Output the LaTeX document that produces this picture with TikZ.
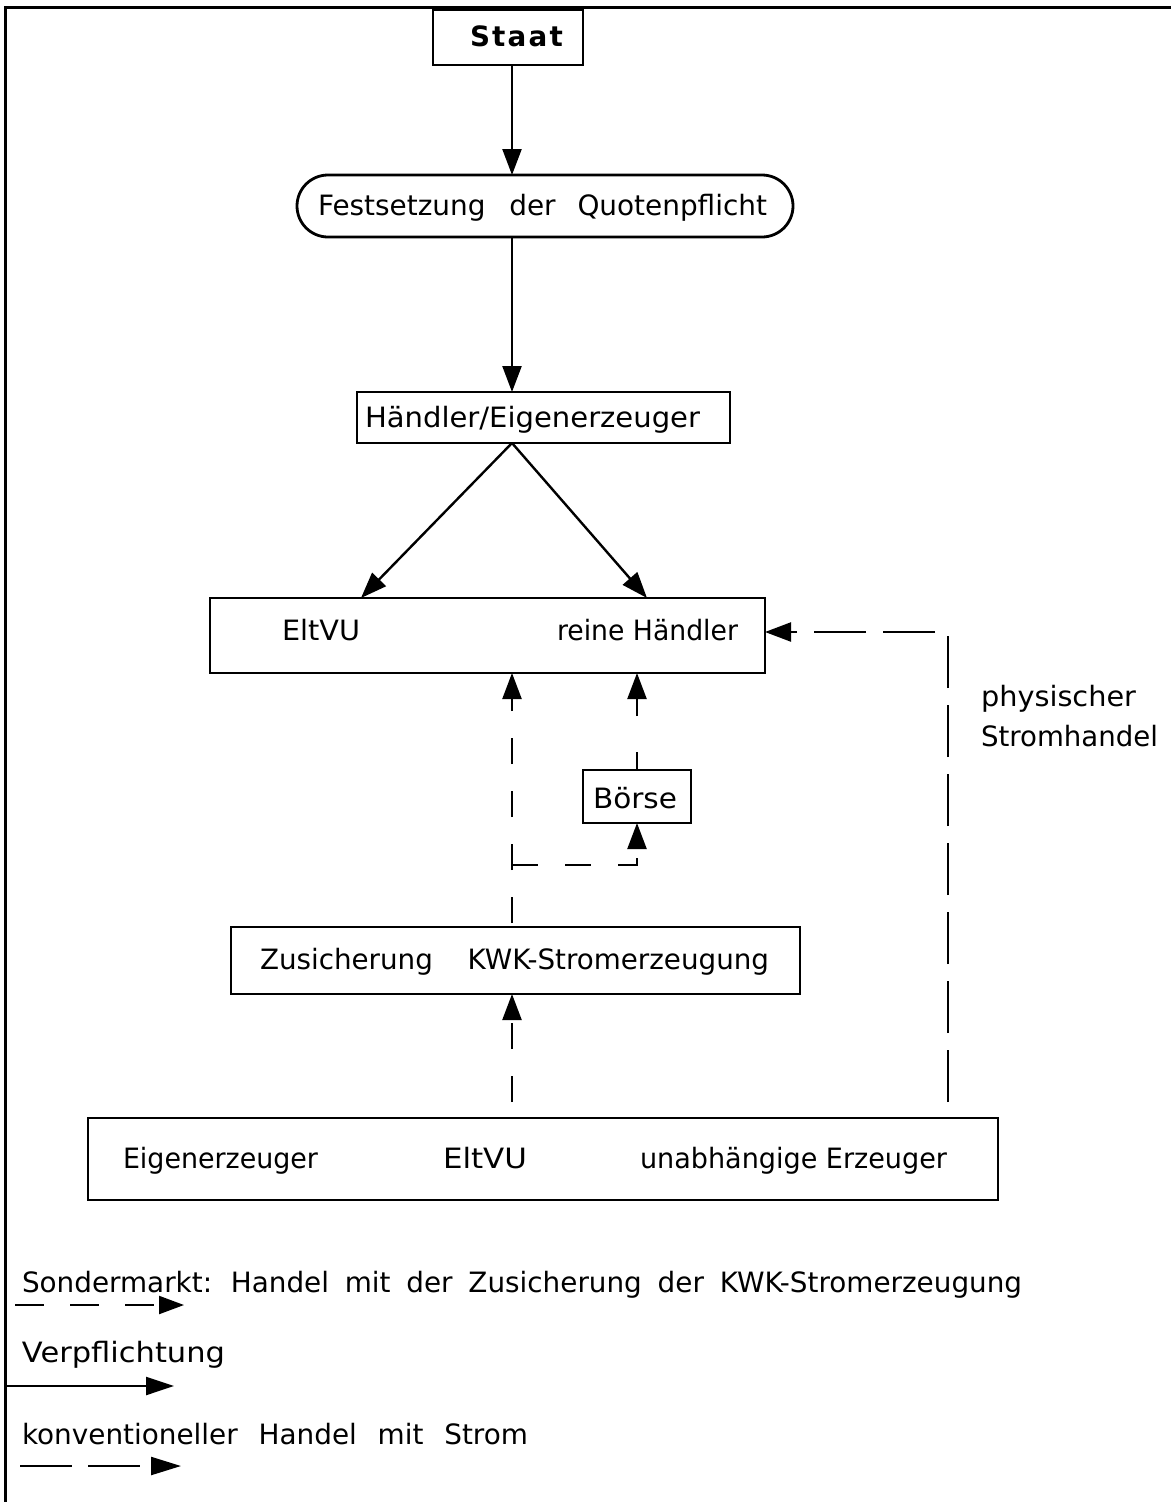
\documentclass[tikz,border=0pt]{standalone}
\usepackage{fontspec}
\usepackage{graphicx}
\setmainfont{DejaVu Sans}
\newfontfamily\staatfont[LetterSpace=8]{DejaVu Sans}
\usetikzlibrary{arrows.meta}
% set a text to a given width, keeping its height
\newcommand{\fitw}[2]{\resizebox{#1}{\height}{#2}}

\begin{document}
\begin{tikzpicture}[x=1pt,y=-1pt,
  every node/.style={inner sep=0pt, outer sep=0pt},
  box/.style={draw, line width=2.8pt},
  txt/.style={anchor=base west, font=\fontsize{28}{33}\selectfont},
  tip/.style={-{Triangle[length=26pt,width=19pt]}},
  solidarrow/.style={line width=2.4pt, tip},
  shortdash/.style={line width=2.3pt, tip, dash pattern=on 26pt off 27pt},
  longdash/.style={line width=2.3pt, tip, dash pattern=on 52pt off 17pt},
  frame/.style={line width=3pt}
]
\useasboundingbox (0,0) rectangle (1171,1502);

% outer frame (open at right and bottom)
\draw[frame] (5,1502) -- (5,7) -- (1171,7);

% spine of the diagram
\coordinate (spine) at (512,0);

% boxes
\node[box, minimum width=150pt, minimum height=55pt] (staat) at (508,37.5) {};
\node[box, rounded corners=31pt, minimum width=496pt, minimum height=62pt] (fest) at (545,206) {};
\node[box, minimum width=373pt, minimum height=51pt] (hand) at (543.5,417.5) {};
\node[box, minimum width=555pt, minimum height=75pt] (elt) at (487.5,635.5) {};
\node[box, minimum width=108pt, minimum height=53pt] (boerse) at (637,796.5) {};
\node[box, minimum width=569pt, minimum height=67pt] (zus) at (515.5,960.5) {};
\node[box, minimum width=910pt, minimum height=82pt] (erz) at (543,1159) {};

% texts
\node[txt, font=\fontsize{28}{33}\staatfont\bfseries] (staatT) at (470,46) {\fitw{93pt}{Staat}};
\node[txt] (festT) at (318,215) {\fitw{449pt}{Festsetzung\hspace{15pt} der\hspace{13pt} Quotenpflicht}};
\node[txt] (handT) at (365,427) {\fitw{335pt}{Händler/Eigenerzeuger}};
\node[txt] (eltT) at (282,640) {\fitw{78pt}{EltVU}};
\node[txt] (reinT) at (557,640) {\fitw{181pt}{reine Händler}};
\node[txt] (boerseT) at (593,808) {\fitw{84pt}{Börse}};
\node[txt] (physT) at (981,706) {\fitw{155pt}{physischer}};
\node[txt] (stromT) at (981,746) {\fitw{177pt}{Stromhandel}};
\node[txt] (zusT) at (260,969) {\fitw{509pt}{Zusicherung\hspace{26pt} KWK-Stromerzeugung}};
\node[txt] (eigT) at (123,1168) {\fitw{195pt}{Eigenerzeuger}};
\node[txt] (elt2T) at (443,1168) {\fitw{84pt}{EltVU}};
\node[txt] (unabT) at (640,1168) {\fitw{307pt}{unabhängige Erzeuger}};

% obligation arrows
\draw[solidarrow] (staat.south -| spine) -- (fest.north -| spine);
\draw[solidarrow] (fest.south -| spine) -- (hand.north -| spine);
\draw[solidarrow] (hand.south -| spine) -- ([xshift=-126.5pt]elt.north);
\draw[solidarrow] (hand.south -| spine) -- ([xshift=159.5pt]elt.north);

% special market for CHP commitments
\coordinate (src1) at (512,1102);
\coordinate (knee) at (512,865);
\draw[shortdash] (src1) -- (zus.south -| spine);
\draw[shortdash, dash phase=49pt] (zus.north -| spine) -- (elt.south -| spine);
\draw[shortdash] (knee) -- (knee -| boerse.south) -- (boerse.south);
\draw[line width=2.3pt, tip, dash pattern=on 18pt off 36pt] (boerse.north) -- (elt.south -| boerse.north);

% physical power trade
\coordinate (src2) at (948,1102);
\coordinate (eltin) at ([yshift=3.5pt]elt.east);
\draw[longdash] (src2) -- (src2 |- eltin) -- (eltin);

% legend
\node[txt] (leg1) at (22,1292) {\fitw{1000pt}{Sondermarkt:\hspace{7pt} Handel\hspace{7pt} mit\hspace{7pt} der\hspace{7pt} Zusicherung\hspace{7pt} der\hspace{7pt} KWK-Stromerzeugung}};
\coordinate (l1a) at (15,1305);
\coordinate (l1b) at (184,1305);
\draw[line width=2.3pt, -{Triangle[length=25pt,width=18pt]}, dash pattern=on 29pt off 26pt] (l1a) -- (l1b);

\node[txt] (leg2) at (22,1362) {\fitw{203pt}{Verpflichtung}};
\coordinate (l2a) at (5,1386);
\coordinate (l2b) at (174,1386);
\draw[line width=2.3pt, -{Triangle[length=28pt,width=18pt]}] (l2a) -- (l2b);

\node[txt] (leg3) at (22,1444) {\fitw{506pt}{konventioneller\hspace{12pt} Handel\hspace{12pt} mit\hspace{12pt} Strom}};
\coordinate (l3a) at (20,1466);
\coordinate (l3b) at (181,1466);
\draw[line width=2.3pt, -{Triangle[length=30pt,width=18pt]}, dash pattern=on 52pt off 16pt] (l3a) -- (l3b);
\end{tikzpicture}
\end{document}
